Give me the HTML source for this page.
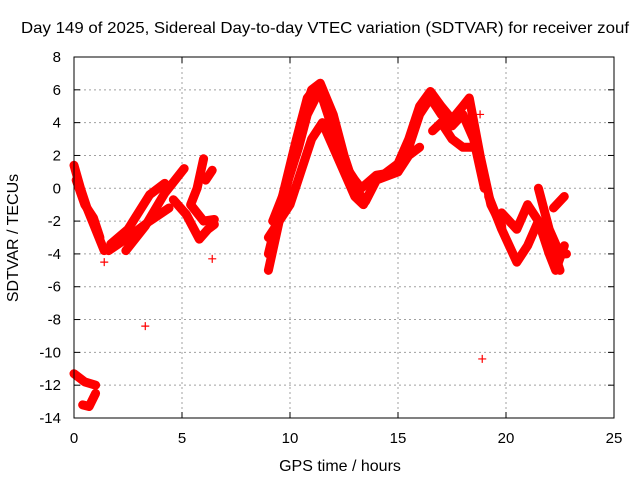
<!DOCTYPE html>
<html><head><meta charset="utf-8"><style>
body{margin:0;background:#fff;}
svg{display:block;font-family:"Liberation Sans",sans-serif;}
</style></head><body>
<svg id="chart" width="640" height="480" viewBox="0 0 640 480">
<rect width="640" height="480" fill="#fff"/>
<text x="325" y="33" font-size="16" text-anchor="middle" textLength="608" lengthAdjust="spacingAndGlyphs">Day 149 of 2025, Sidereal Day-to-day VTEC variation (SDTVAR) for receiver zouf</text>
<g id="grid"></g>
<g id="ticks"></g>
<g id="marks"></g>
<rect x="74" y="57" width="540" height="361" fill="none" stroke="#000" stroke-width="1"/>
<text x="340" y="471" font-size="16" text-anchor="middle">GPS time / hours</text>
<text transform="translate(18,238) rotate(-90)" font-size="16" text-anchor="middle">SDTVAR / TECUs</text>
</svg>
<script>
const xTicks=[0,5,10,15,20,25];
const yTicks=[8,6,4,2,0,-2,-4,-6,-8,-10,-12,-14];
const trackEarly=[[0,1.4],[0.3,0],[0.6,-1.2],[1,-2.5],[1.4,-3.8]];
const trackEarly2=[[0.1,0.5],[0.5,-1],[0.9,-1.8],[1.2,-3]];
const trackLowA=[[0,-11.3],[0.5,-11.8],[1,-12]];
const trackLowB=[[0.4,-13.2],[0.7,-13.3],[1,-12.5]];
const trackB1=[[1.7,-3.4],[2.5,-2.5],[3.5,-0.4],[4.2,0.3]];
const trackB2=[[1.6,-3.8],[2.5,-3],[3.5,-2],[4.4,-1.2]];
const trackB3=[[2.4,-3.8],[3.3,-2.3],[4.2,-0.3],[5.1,1.2]];
const trackC1=[[4.6,-0.7],[5.2,-1.6],[5.8,-3.1],[6.2,-2.5],[6.5,-2.2]];
const trackC2=[[6,1.8],[5.7,0],[5.4,-1],[6,-2],[6.5,-1.9]];
const trackC3=[[6.1,0.5],[6.4,1.1]];
const trackM1=[[9,-5],[10,1],[10.5,4],[11,6],[11.4,6.4],[12,4.5],[12.5,2],[13,0],[13.5,-0.8],[14,0.5],[15,1.5],[15.5,3],[16,5],[16.5,5.9],[17,5],[17.5,4.2],[18,5],[18.3,5.5],[18.8,2],[19.3,-1],[19.8,-2.3]];
const trackM2=[[9,-4],[10.3,3],[10.8,5.5],[11.1,6],[11.5,5.5],[12,3.5],[12.5,1.5],[13,0.5],[13.3,0],[14,0.8],[15,1],[15.5,2.5],[16,4.5],[16.5,5.5],[17,4.5],[17.5,3.8],[18,4.5],[18.5,3],[19,0]];
const trackM3=[[9,-3],[10,-1],[10.5,1],[11,3],[11.5,4],[12,2.5],[12.5,1],[13,-0.5],[13.4,-1],[14,0.5],[15,1],[15.5,2],[16,2.5]];
const trackM5=[[9.2,-2],[9.8,0],[10.4,2.5],[10.8,4.5],[11.3,5.8]];
const trackM4=[[16.6,3.5],[17,4],[17.5,3],[18,2.5],[18.5,2.5]];
const trackD1=[[19.2,-0.5],[19.8,-2.5],[20.5,-4.5],[21,-3.5],[21.5,-2],[22,-3],[22.5,-5]];
const trackD2=[[19.8,-1.5],[20.5,-2.5],[21,-1],[21.5,-2],[22,-4],[22.3,-5],[22.7,-3.5]];
const trackD3=[[21.5,0],[22,-2.5],[22.5,-4],[22.8,-4]];
const trackD4=[[22.2,-1.2],[22.7,-0.5]];
const outliers=[[3.3,-8.4],[18.9,-10.4],[1.4,-4.5],[18.8,4.5],[6.4,-4.3]];
const tracks=[trackEarly,trackEarly2,trackLowA,trackLowB,trackB1,trackB2,trackB3,trackC1,trackC2,trackC3,trackM1,trackM2,trackM3,trackM5,trackM4,trackD1,trackD2,trackD3,trackD4];

const X=t=>74+t*21.6;
const Y=v=>57+(8-v)*(361/22);
const NS='http://www.w3.org/2000/svg';
function mk(tag,attrs,parent){const e=document.createElementNS(NS,tag);for(const k in attrs)e.setAttribute(k,attrs[k]);parent.appendChild(e);return e;}
const grid=document.getElementById('grid'),ticks=document.getElementById('ticks'),marks=document.getElementById('marks');
xTicks.forEach(t=>{
  const x=X(t);
  if(t>0&&t<25){const g=mk('line',{x1:x,y1:57,x2:x,y2:418,stroke:'#a0a0a0','stroke-dasharray':'2,3'},grid);
  
  }
  mk('line',{x1:x,y1:418,x2:x,y2:412,stroke:'#000'},ticks);
  mk('line',{x1:x,y1:57,x2:x,y2:63,stroke:'#000'},ticks);
  const l=mk('text',{x:x,y:443,'font-size':15,'text-anchor':'middle'},ticks);l.textContent=t;
  
  
});
yTicks.forEach(v=>{
  const y=Y(v);
  if(v<8&&v>-14){const g=mk('line',{x1:74,y1:y,x2:614,y2:y,stroke:'#a0a0a0','stroke-dasharray':'2,3'},grid);
  
  }
  mk('line',{x1:74,y1:y,x2:80,y2:y,stroke:'#000'},ticks);
  mk('line',{x1:614,y1:y,x2:608,y2:y,stroke:'#000'},ticks);
  const l=mk('text',{x:61,y:y+5,'font-size':15,'text-anchor':'end'},ticks);l.textContent=v;
  
  
});
tracks.forEach(tr=>{
  const p=mk('polyline',{points:tr.map(d=>X(d[0])+','+Y(d[1])).join(' '),fill:'none',stroke:'#ff0000','stroke-width':9,'stroke-linejoin':'round','stroke-linecap':'round'},marks);
  
  
});
function plus(d){
  const x=X(d[0]),y=Y(d[1]);
  const p=mk('path',{d:`M${x-4},${y}H${x+4}M${x},${y-4}V${y+4}`,stroke:'#ff0000','stroke-width':1.2},marks);
  
  
}
tracks.forEach(tr=>tr.forEach(plus));
outliers.forEach(plus);
</script>
</body></html>
